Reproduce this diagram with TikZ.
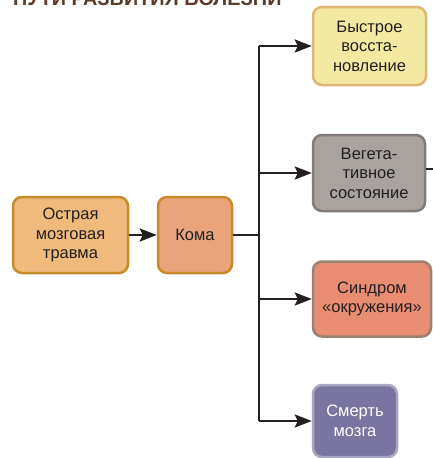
\documentclass[tikz,border=0pt]{standalone}
\usepackage{fontspec}
\setmainfont{Liberation Sans}
\usetikzlibrary{arrows.meta}
\definecolor{txt}{HTML}{231F20}
\definecolor{ttl}{HTML}{5B3B29}
\definecolor{f1}{HTML}{F0BA7C}\definecolor{b1}{HTML}{C88A28}
\definecolor{f2}{HTML}{E9A47C}
\definecolor{f3}{HTML}{F3E9A2}\definecolor{b3}{HTML}{DDB672}
\definecolor{f4}{HTML}{A9A3A0}\definecolor{b4}{HTML}{817B79}
\definecolor{f5}{HTML}{E98D72}\definecolor{b5}{HTML}{9A8270}
\definecolor{f6}{HTML}{7A74A0}\definecolor{b6}{HTML}{A9A5C4}
\tikzset{
  box/.style={draw, line width=2.5pt, rounded corners=9pt, align=center,
    inner sep=0pt, font=\fontsize{16.5}{19.5}\selectfont, text=txt},
  conn/.style={line width=2.6pt, draw=txt},
  arr/.style={conn, -{Stealth[length=17pt,width=13pt,inset=3pt]}},
}
\begin{document}
\begin{tikzpicture}[x=1pt,y=-1pt]
\useasboundingbox (0,0) rectangle (432,458);
\node[anchor=base west, font=\bfseries\fontsize{19.8}{22}\selectfont, text=ttl, inner sep=0pt] (title) at (13,5) {ПУТИ РАЗВИТИЯ БОЛЕЗНИ};
\node[box, fill=f1, draw=b1, minimum width=115pt, minimum height=76pt] (trauma) at (70.5,235) {Острая\\мозговая\\травма};
\node[box, fill=f2, draw=b1, minimum width=74pt, minimum height=76pt] (coma) at (195,235) {Кома};
\node[box, fill=f3, draw=b3, minimum width=113pt, minimum height=78pt] (rec) at (369.5,46) {Быстрое\\восста-\\новление};
\node[box, fill=f4, draw=b4, minimum width=112pt, minimum height=76pt] (veg) at (369,173) {Вегета-\\тивное\\состояние};
\node[box, fill=f5, draw=b5, minimum width=118pt, minimum height=75pt] (syn) at (372,299) {Синдром\\«окружения»};
\node[box, fill=f6, draw=b6, minimum width=84pt, minimum height=72pt, text=white] (death) at (355,421) {Смерть\\мозга};
\coordinate (trunk) at (259,235);
\coordinate (vegout) at (436,169);
\draw[arr] (trauma) -- (coma);
\draw[conn] (coma) -- (trunk);
\draw[conn] (trunk |- rec) -- (trunk |- death);
\draw[arr] (trunk |- rec) -- (rec);
\draw[arr] (trunk |- veg) -- (veg);
\draw[arr] (trunk |- syn) -- (syn);
\draw[arr] (trunk |- death) -- (death);
\draw[conn] (veg.east |- vegout) -- (vegout);
\end{tikzpicture}
\end{document}
